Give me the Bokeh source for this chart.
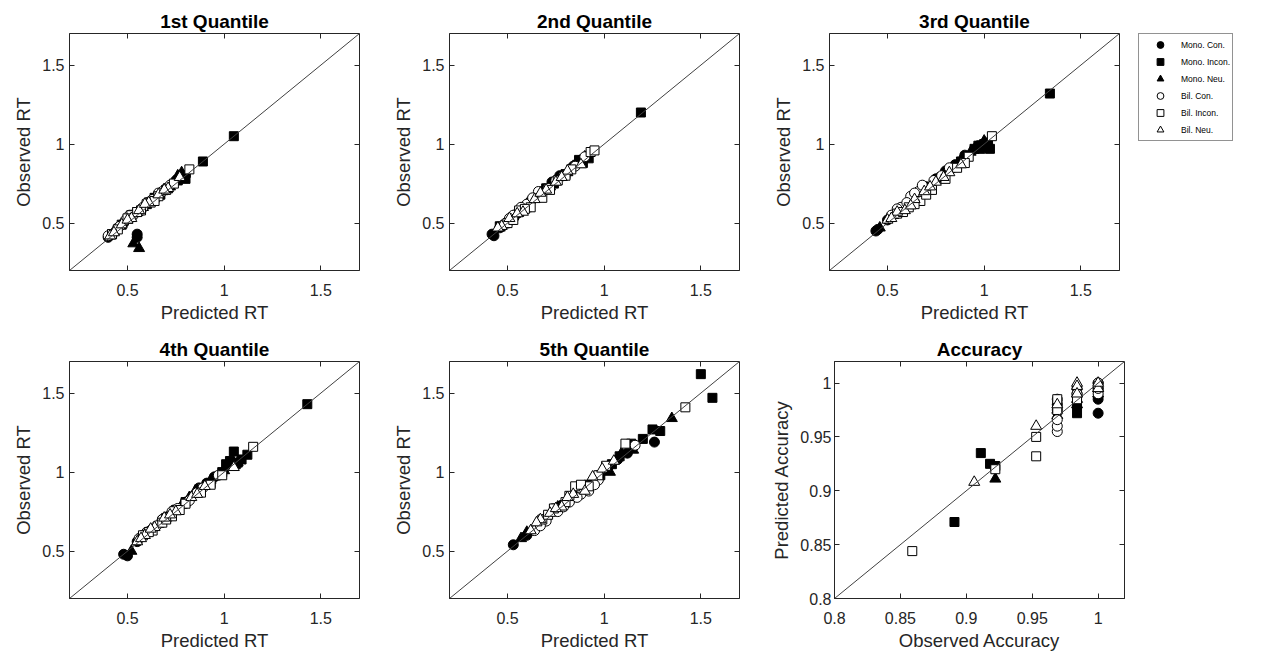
from bokeh.plotting import figure
from bokeh.layouts import row, column
from bokeh.models import (Slope, FixedTicker, CustomJSTickFormatter, LinearAxis,
                          Legend, LegendItem, Range1d)
from bokeh.embed import file_html
from bokeh.resources import INLINE

# ---------------- data ----------------
CONDITIONS = ["Mono. Con.", "Mono. Incon.", "Mono. Neu.", "Bil. Con.", "Bil. Incon.", "Bil. Neu."]
MARKERS = ["circle", "square", "triangle", "circle", "square", "triangle"]
FILLED = [True, True, True, False, False, False]

RT_RANGE = (0.2, 1.7)
ACC_RANGE = (0.8, 1.02)
RT_TICKS = [0.5, 1, 1.5]
ACC_TICKS = [0.8, 0.85, 0.9, 0.95, 1]

# 1st quantile (predicted, observed)
Q1_PRED = {
    "Mono. Con.":   [0.40, 0.55, 0.55, 0.48, 0.62, 0.70, 0.80, 0.57, 0.45, 0.52, 0.66, 0.75],
    "Mono. Incon.": [1.05, 0.89, 0.79, 0.80, 0.42, 0.60, 0.67, 0.76, 0.47, 0.55, 0.71, 0.64],
    "Mono. Neu.":   [0.53, 0.56, 0.41, 0.78, 0.64, 0.50, 0.72, 0.58, 0.44, 0.55, 0.68, 0.76],
    "Bil. Con.":    [0.44, 0.49, 0.53, 0.58, 0.63, 0.68, 0.72, 0.46, 0.40, 0.51, 0.60, 0.66],
    "Bil. Incon.":  [0.45, 0.52, 0.57, 0.62, 0.66, 0.74, 0.82, 0.50, 0.42, 0.55, 0.64, 0.70],
    "Bil. Neu.":    [0.41, 0.47, 0.52, 0.56, 0.61, 0.66, 0.71, 0.77, 0.43, 0.50, 0.59, 0.69],
}
Q1_OBS = {
    "Mono. Con.":   [0.41, 0.43, 0.41, 0.50, 0.64, 0.72, 0.80, 0.58, 0.47, 0.55, 0.68, 0.77],
    "Mono. Incon.": [1.05, 0.89, 0.80, 0.78, 0.43, 0.62, 0.68, 0.77, 0.49, 0.57, 0.72, 0.66],
    "Mono. Neu.":   [0.37, 0.34, 0.42, 0.82, 0.66, 0.52, 0.73, 0.60, 0.46, 0.57, 0.70, 0.80],
    "Bil. Con.":    [0.45, 0.52, 0.55, 0.60, 0.65, 0.70, 0.74, 0.48, 0.42, 0.55, 0.63, 0.69],
    "Bil. Incon.":  [0.46, 0.55, 0.58, 0.63, 0.67, 0.75, 0.84, 0.53, 0.43, 0.57, 0.64, 0.71],
    "Bil. Neu.":    [0.42, 0.49, 0.53, 0.58, 0.63, 0.68, 0.72, 0.79, 0.44, 0.52, 0.62, 0.71],
}

# 2nd quantile
Q2_PRED = {
    "Mono. Con.":   [0.42, 0.43, 0.55, 0.68, 0.77, 0.88, 0.62, 0.50, 0.46, 0.58, 0.73, 0.84],
    "Mono. Incon.": [1.19, 0.89, 0.87, 0.92, 0.74, 0.60, 0.52, 0.80, 0.46, 0.56, 0.66, 0.70],
    "Mono. Neu.":   [0.46, 0.57, 0.65, 0.72, 0.84, 0.90, 0.53, 0.78, 0.49, 0.61, 0.69, 0.81],
    "Bil. Con.":    [0.48, 0.53, 0.60, 0.66, 0.71, 0.79, 0.85, 0.57, 0.51, 0.63, 0.75, 0.90],
    "Bil. Incon.":  [0.50, 0.56, 0.62, 0.68, 0.76, 0.83, 0.93, 0.95, 0.53, 0.59, 0.72, 0.80],
    "Bil. Neu.":    [0.47, 0.51, 0.58, 0.64, 0.70, 0.75, 0.81, 0.88, 0.45, 0.55, 0.67, 0.78],
}
Q2_OBS = {
    "Mono. Con.":   [0.43, 0.42, 0.56, 0.70, 0.80, 0.90, 0.64, 0.50, 0.47, 0.60, 0.76, 0.86],
    "Mono. Incon.": [1.20, 0.88, 0.90, 0.91, 0.75, 0.60, 0.52, 0.81, 0.48, 0.57, 0.67, 0.72],
    "Mono. Neu.":   [0.47, 0.58, 0.67, 0.73, 0.86, 0.92, 0.54, 0.79, 0.50, 0.63, 0.71, 0.82],
    "Bil. Con.":    [0.49, 0.55, 0.62, 0.70, 0.72, 0.80, 0.86, 0.60, 0.53, 0.66, 0.77, 0.92],
    "Bil. Incon.":  [0.50, 0.58, 0.60, 0.66, 0.77, 0.84, 0.95, 0.96, 0.52, 0.59, 0.71, 0.80],
    "Bil. Neu.":    [0.48, 0.53, 0.57, 0.65, 0.71, 0.76, 0.83, 0.87, 0.47, 0.56, 0.69, 0.79],
}

# 3rd quantile
Q3_PRED = {
    "Mono. Con.":   [0.44, 0.45, 0.90, 0.85, 0.75, 0.64, 0.56, 0.97, 0.50, 0.60, 0.70, 0.80],
    "Mono. Incon.": [1.34, 0.98, 1.01, 1.00, 1.03, 0.95, 0.78, 0.66, 0.97, 1.02, 0.88, 0.72],
    "Mono. Neu.":   [0.46, 0.53, 0.61, 0.70, 0.82, 0.93, 1.00, 0.88, 0.57, 0.66, 0.76, 0.96],
    "Bil. Con.":    [0.57, 0.62, 0.66, 0.70, 0.74, 0.78, 0.52, 0.60, 0.55, 0.64, 0.68, 0.82],
    "Bil. Incon.":  [0.55, 0.61, 0.67, 0.73, 0.80, 0.86, 0.92, 1.04, 0.58, 0.64, 0.70, 0.90],
    "Bil. Neu.":    [0.50, 0.55, 0.59, 0.64, 0.69, 0.75, 0.82, 0.88, 0.52, 0.62, 0.72, 0.79],
}
Q3_OBS = {
    "Mono. Con.":   [0.45, 0.46, 0.93, 0.87, 0.78, 0.66, 0.58, 0.99, 0.52, 0.62, 0.73, 0.83],
    "Mono. Incon.": [1.32, 0.97, 0.98, 1.00, 0.97, 0.97, 0.79, 0.67, 0.99, 1.01, 0.89, 0.72],
    "Mono. Neu.":   [0.47, 0.55, 0.63, 0.72, 0.84, 0.95, 1.02, 0.90, 0.58, 0.68, 0.78, 0.97],
    "Bil. Con.":    [0.60, 0.67, 0.70, 0.72, 0.77, 0.80, 0.55, 0.63, 0.59, 0.69, 0.74, 0.85],
    "Bil. Incon.":  [0.56, 0.60, 0.64, 0.71, 0.78, 0.85, 0.92, 1.05, 0.57, 0.62, 0.68, 0.88],
    "Bil. Neu.":    [0.52, 0.57, 0.58, 0.65, 0.70, 0.76, 0.82, 0.87, 0.53, 0.61, 0.73, 0.79],
}

# 4th quantile
Q4_PRED = {
    "Mono. Con.":   [0.48, 0.50, 0.62, 0.74, 0.87, 1.02, 0.55, 0.95, 0.58, 0.68, 0.80, 0.91],
    "Mono. Incon.": [1.43, 1.05, 1.03, 1.06, 1.09, 1.12, 0.99, 0.80, 1.01, 1.07, 0.93, 0.70],
    "Mono. Neu.":   [0.52, 0.85, 0.66, 0.72, 0.93, 1.07, 0.58, 0.78, 0.62, 0.70, 0.82, 1.00],
    "Bil. Con.":    [0.56, 0.60, 0.65, 0.70, 0.76, 0.82, 0.89, 0.97, 0.58, 0.68, 0.73, 0.86],
    "Bil. Incon.":  [0.58, 0.63, 0.68, 0.73, 0.80, 0.88, 0.99, 1.15, 0.61, 0.70, 0.77, 0.93],
    "Bil. Neu.":    [0.55, 0.59, 0.64, 0.69, 0.75, 0.83, 0.90, 1.05, 0.57, 0.62, 0.72, 0.86],
}
Q4_OBS = {
    "Mono. Con.":   [0.48, 0.47, 0.63, 0.76, 0.90, 1.05, 0.56, 0.97, 0.60, 0.70, 0.81, 0.93],
    "Mono. Incon.": [1.43, 1.13, 1.07, 1.05, 1.08, 1.11, 1.00, 0.81, 1.05, 1.06, 0.93, 0.71],
    "Mono. Neu.":   [0.50, 0.88, 0.67, 0.74, 0.95, 1.06, 0.60, 0.79, 0.63, 0.71, 0.84, 1.01],
    "Bil. Con.":    [0.58, 0.62, 0.66, 0.71, 0.77, 0.82, 0.90, 0.98, 0.60, 0.70, 0.75, 0.87],
    "Bil. Incon.":  [0.60, 0.63, 0.68, 0.72, 0.80, 0.87, 0.98, 1.16, 0.62, 0.70, 0.76, 0.92],
    "Bil. Neu.":    [0.56, 0.60, 0.65, 0.71, 0.75, 0.84, 0.91, 1.03, 0.58, 0.64, 0.73, 0.86],
}

# 5th quantile
Q5_PRED = {
    "Mono. Con.":   [0.53, 1.26, 0.66, 0.78, 0.90, 1.02, 1.12, 0.60, 0.70, 0.85, 0.96, 1.07],
    "Mono. Incon.": [1.50, 1.56, 1.25, 1.29, 1.14, 1.08, 0.98, 0.86, 0.75, 0.92, 1.04, 1.20],
    "Mono. Neu.":   [1.35, 1.09, 1.03, 0.60, 0.70, 0.82, 0.94, 0.65, 0.76, 0.88, 1.15, 0.57],
    "Bil. Con.":    [0.64, 0.70, 0.76, 0.82, 0.88, 0.92, 0.97, 1.16, 0.67, 0.79, 0.86, 0.95],
    "Bil. Incon.":  [0.68, 0.74, 0.80, 0.85, 0.92, 0.97, 1.11, 1.42, 0.71, 0.82, 0.88, 1.01],
    "Bil. Neu.":    [0.62, 0.67, 0.72, 0.78, 0.84, 0.90, 0.99, 1.05, 0.65, 0.75, 0.81, 0.94],
}
Q5_OBS = {
    "Mono. Con.":   [0.54, 1.19, 0.67, 0.79, 0.91, 1.03, 1.12, 0.60, 0.71, 0.86, 0.96, 1.08],
    "Mono. Incon.": [1.62, 1.47, 1.27, 1.26, 1.18, 1.10, 0.98, 0.87, 0.77, 0.92, 1.05, 1.21],
    "Mono. Neu.":   [1.34, 1.12, 1.00, 0.62, 0.72, 0.83, 0.95, 0.66, 0.78, 0.89, 1.14, 0.58],
    "Bil. Con.":    [0.63, 0.69, 0.75, 0.81, 0.86, 0.88, 0.95, 1.17, 0.66, 0.78, 0.84, 0.92],
    "Bil. Incon.":  [0.70, 0.77, 0.81, 0.91, 0.91, 0.98, 1.18, 1.41, 0.73, 0.85, 0.92, 1.04],
    "Bil. Neu.":    [0.63, 0.70, 0.74, 0.78, 0.86, 0.88, 1.02, 1.07, 0.68, 0.77, 0.84, 0.97],
}

# Accuracy (observed on x, predicted on y)
ACC_OBS = {
    "Mono. Con.":   [1.000, 1.000, 0.984, 0.969, 1.000, 0.984, 1.000, 0.969],
    "Mono. Incon.": [0.891, 0.911, 0.918, 0.922, 0.984, 0.984, 0.969, 1.000],
    "Mono. Neu.":   [0.922, 0.984, 1.000, 0.969, 0.984, 1.000, 0.969, 0.984],
    "Bil. Con.":    [0.969, 0.969, 0.969, 0.969, 0.984, 1.000, 1.000, 1.000],
    "Bil. Incon.":  [0.859, 0.922, 0.953, 0.953, 0.969, 0.969, 0.984, 1.000],
    "Bil. Neu.":    [0.906, 0.953, 0.984, 0.984, 1.000, 1.000, 0.969, 0.984],
}
ACC_PRED = {
    "Mono. Con.":   [0.972, 0.995, 0.990, 0.980, 0.985, 0.995, 1.000, 0.975],
    "Mono. Incon.": [0.871, 0.935, 0.925, 0.923, 0.972, 0.980, 0.980, 0.990],
    "Mono. Neu.":   [0.911, 0.985, 0.995, 0.970, 0.990, 0.990, 0.975, 0.980],
    "Bil. Con.":    [0.955, 0.960, 0.966, 0.985, 0.990, 0.990, 0.995, 1.000],
    "Bil. Incon.":  [0.844, 0.920, 0.950, 0.932, 0.975, 0.985, 0.985, 0.997],
    "Bil. Neu.":    [0.908, 0.960, 1.000, 0.997, 0.995, 1.000, 0.980, 0.990],
}

# ---------------- styling helpers ----------------
FONT = "Liberation Sans"
INK = "#262626"
FMT_CODE = "return String(Number(tick.toFixed(3)));"
SIZES = {"circle": 10, "square": 9, "triangle": 11}
FRAME_W, FRAME_H = 290, 237


def marker_style(marker, filled):
    return dict(marker=marker, size=SIZES[marker],
                fill_color="black" if filled else "white",
                line_color="black", line_width=1)


def make_panel(title, xlab, ylab, xs, ys, rng, ticks, left, top, bottom, right, ystandoff=5):
    p = figure(frame_width=FRAME_W, frame_height=FRAME_H,
               x_range=Range1d(*rng), y_range=Range1d(*rng),
               output_backend="svg", toolbar_location=None,
               min_border_left=left, min_border_right=right,
               min_border_top=top, min_border_bottom=bottom,
               background_fill_color="white", border_fill_color="white")
    p.title.text = title
    p.title.align = "center"
    p.title.text_font = FONT
    p.title.text_font_size = "19px"
    p.title.text_font_style = "bold"
    p.title.text_color = "black"
    p.title.standoff = 4
    p.xgrid.grid_line_color = None
    p.ygrid.grid_line_color = None
    p.outline_line_color = INK
    p.outline_line_width = 1
    p.outline_line_alpha = 1

    for ax, lab in ((p.xaxis[0], xlab), (p.yaxis[0], ylab)):
        ax.ticker = FixedTicker(ticks=ticks)
        ax.formatter = CustomJSTickFormatter(code=FMT_CODE)
        ax.axis_label = lab
        ax.axis_label_text_font = FONT
        ax.axis_label_text_font_size = "18.5px"
        ax.axis_label_text_font_style = "normal"
        ax.axis_label_text_color = INK
        ax.axis_label_standoff = 5
        ax.major_label_text_font = FONT
        ax.major_label_text_font_size = "16px"
        ax.major_label_text_color = INK
        ax.major_tick_in = 5
        ax.major_tick_out = 0
        ax.major_tick_line_color = INK
        ax.minor_tick_line_color = None
        ax.axis_line_color = INK
    p.xaxis[0].major_label_standoff = 13
    p.xaxis[0].axis_label_standoff = 3
    p.yaxis[0].major_label_standoff = ystandoff

    for side in ("above", "right"):
        extra = LinearAxis(ticker=FixedTicker(ticks=ticks),
                           formatter=CustomJSTickFormatter(code=FMT_CODE),
                           major_label_text_font_size="0px",
                           major_label_text_alpha=0,
                           major_label_standoff=0,
                           axis_line_color=None,
                           major_tick_in=5, major_tick_out=0,
                           major_tick_line_color=INK,
                           minor_tick_line_color=None)
        p.add_layout(extra, side)

    p.add_layout(Slope(gradient=1, y_intercept=0, line_color="#404040", line_width=1))

    for cond, marker, filled in zip(CONDITIONS, MARKERS, FILLED):
        p.scatter(x=xs[cond], y=ys[cond], **marker_style(marker, filled))
    return p


def make_legend_figure(xs, ys, top, bottom):
    # a side figure that holds only the legend; its renderers are hidden copies
    # of the 3rd-quantile series, so the legend shows their marker styles
    f = figure(frame_width=110, frame_height=FRAME_H + 8,
               x_range=Range1d(*RT_RANGE), y_range=Range1d(*RT_RANGE),
               output_backend="svg", toolbar_location=None,
               x_axis_location=None, y_axis_location=None,
               min_border_left=0, min_border_right=0,
               min_border_top=top, min_border_bottom=bottom,
               outline_line_color=None,
               background_fill_color="white", border_fill_color="white")
    f.xgrid.grid_line_color = None
    f.ygrid.grid_line_color = None
    items = []
    for cond, marker, filled in zip(CONDITIONS, MARKERS, FILLED):
        r = f.scatter(x=xs[cond], y=ys[cond], visible=False, **marker_style(marker, filled))
        items.append(LegendItem(label=cond, renderers=[r]))
    leg = Legend(items=items, location=(9, 137), margin=0,
                 padding=2, spacing=0,
                 glyph_width=38, glyph_height=17, label_height=17,
                 label_standoff=2, click_policy="none",
                 label_text_font=FONT, label_text_font_size="8.5px",
                 label_text_color="black",
                 border_line_color=INK, border_line_width=1,
                 background_fill_color="white", background_fill_alpha=1)
    f.add_layout(leg, "center")
    return f


p1 = make_panel("1st Quantile", "Predicted RT", "Observed RT", Q1_PRED, Q1_OBS,
                RT_RANGE, RT_TICKS, 69, 33, 64, 29)
p2 = make_panel("2nd Quantile", "Predicted RT", "Observed RT", Q2_PRED, Q2_OBS,
                RT_RANGE, RT_TICKS, 61, 33, 64, 29)
p3 = make_panel("3rd Quantile", "Predicted RT", "Observed RT", Q3_PRED, Q3_OBS,
                RT_RANGE, RT_TICKS, 61, 33, 64, 10)
pl = make_legend_figure(Q3_PRED, Q3_OBS, 25, 64)
p4 = make_panel("4th Quantile", "Predicted RT", "Observed RT", Q4_PRED, Q4_OBS,
                RT_RANGE, RT_TICKS, 69, 25, 50, 29)
p5 = make_panel("5th Quantile", "Predicted RT", "Observed RT", Q5_PRED, Q5_OBS,
                RT_RANGE, RT_TICKS, 61, 25, 50, 29)
p6 = make_panel("Accuracy", "Observed Accuracy", "Predicted Accuracy", ACC_OBS, ACC_PRED,
                ACC_RANGE, ACC_TICKS, 61, 25, 50, 29, ystandoff=3)

layout = column(row(p1, p2, p3, pl), row(p4, p5, p6))

with open("out.html", "w") as f:
    f.write(file_html(layout, INLINE))
